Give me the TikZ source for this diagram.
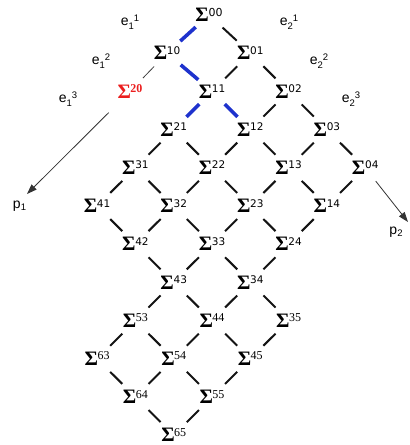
\documentclass[tikz,border=0pt]{standalone}
\usepackage{fontspec}
\setmainfont{Liberation Serif}
\newfontfamily\sigmafont{Liberation Serif}
\newfontfamily\idxsans{DejaVu Sans}
\newfontfamily\labsans{Liberation Sans}
\usetikzlibrary{arrows.meta}

\definecolor{pathblue}{RGB}{30,50,205}
\definecolor{sigred}{RGB}{235,30,30}
\definecolor{linkgray}{RGB}{20,20,20}

% Sigma with a two-digit index set as a raised superscript
\newcommand{\Sig}[3][\idxsans]{%
  \mbox{\sigmafont\fontsize{20.5}{20.5}\selectfont\bfseries\char"03A3}\kern-3.6pt%
  \raisebox{5.6pt}{\fontsize{#2}{#2}\selectfont#1 #3}}
% e with a subscript and a following superscript
\newcommand{\Elab}[2]{%
  {\labsans\fontsize{14}{14}\selectfont e%
  \raisebox{-3.6pt}{\fontsize{9.5}{9.5}\selectfont #1}%
  \raisebox{4.8pt}{\fontsize{9.5}{9.5}\selectfont #2}}}
\newcommand{\Plab}[1]{%
  {\labsans\fontsize{14}{14}\selectfont p%
  \raisebox{-2.6pt}{\fontsize{9.5}{9.5}\selectfont #1}}}

\begin{document}
\begin{tikzpicture}[x=1pt,y=-1pt,
  sig/.style={inner sep=0pt, outer sep=0pt},
  lab/.style={inner sep=0pt, outer sep=0pt},
  link/.style={draw=linkgray, line width=2pt, shorten <=18.5pt, shorten >=18.5pt},
  bluelink/.style={draw=pathblue, line width=3.6pt, shorten <=18pt, shorten >=18pt},
  thinlink/.style={draw=black!75, line width=0.8pt, shorten <=18.5pt, shorten >=18.5pt},
  proj/.style={draw=black!80, line width=0.8pt, -{Triangle[length=10pt,width=7pt]}}]

\useasboundingbox (0,0) rectangle (410,445);

% lattice of Sigma nodes, upper rows with sans-serif indices
\foreach \i/\j in {0/1,1/1,0/2,2/1,1/2,0/3,3/1,2/2,1/3,0/4,
                   4/1,3/2,2/3,1/4,4/2,3/3,2/4,4/3,3/4}
  \node[sig] (s\i\j) at ({212+38.3*(\j-\i)},{15+38.2*(\i+\j)}) {\Sig{10.5}{\i\j}};
% lower rows with serif indices
\foreach \i/\j in {5/3,4/4,3/5,6/3,5/4,4/5,6/4,5/5,6/5}
  \node[sig] (s\i\j) at ({212+38.3*(\j-\i)},{15+38.2*(\i+\j)}) {\Sig[\sigmafont]{12}{\i\j}};

% top of the lattice
\node[sig] (s00) at (209,15) {\Sig{11}{00}};
\node[sig] (s10) at (167,53.2) {\Sig{10.5}{10}};
\node[sig,text=sigred] (s20) at (130,91.4) {\Sig[\sigmafont\bfseries]{12}{20}};

% edge labels
\node[lab] (e11) at (130,22) {\Elab{1}{1}};
\node[lab] (e12) at (101,61) {\Elab{1}{2}};
\node[lab] (e13) at (68,99)  {\Elab{1}{3}};
\node[lab] (e21) at (289,22) {\Elab{2}{1}};
\node[lab] (e22) at (319,61) {\Elab{2}{2}};
\node[lab] (e23) at (351,99) {\Elab{2}{3}};

% projections
\node[lab] (p1) at (19.5,206) {\Plab{1}};
\node[lab] (p2) at (396,232) {\Plab{2}};
\coordinate (p1tip) at (27,194);
\coordinate (p2tip) at (408,222);

% lattice connections
\foreach \a/\b in {00/01,01/11,01/02,02/12,02/03,
                   21/31,21/22,12/22,12/13,03/13,03/04,
                   31/41,31/32,22/32,22/23,13/23,13/14,04/14,
                   41/42,32/42,32/33,23/33,23/24,14/24,
                   42/43,33/43,33/34,24/34,
                   43/53,43/44,34/44,34/35,
                   53/63,53/54,44/54,44/45,35/45,
                   63/64,54/64,54/55,45/55,
                   64/65,55/65}
  \draw[link] (s\a.center) -- (s\b.center);

% highlighted path
\foreach \a/\b in {00/10,10/11,11/21,11/12}
  \draw[bluelink] (s\a.center) -- (s\b.center);

\draw[thinlink] (s10.center) -- (s20.center);

% arrows towards the projections
\draw[proj, shorten <=30pt] (s20.center) -- (p1tip);
\draw[proj, shorten <=17pt] (s04.center) -- (p2tip);

\end{tikzpicture}
\end{document}
